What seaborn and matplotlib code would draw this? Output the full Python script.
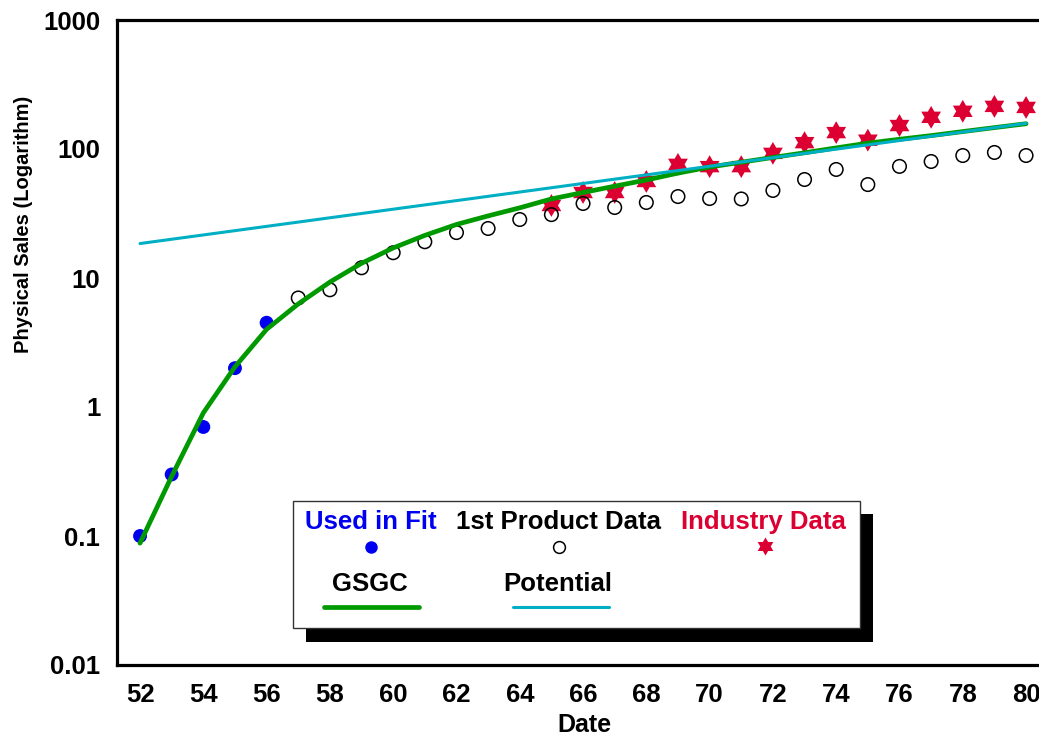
import numpy as np
import pandas as pd
import seaborn as sns
import matplotlib.pyplot as plt
from matplotlib.path import Path
from matplotlib.lines import Line2D
from matplotlib.patches import Rectangle
from matplotlib.ticker import FixedLocator, FixedFormatter, LogLocator, NullFormatter

# Early sales used to calibrate the growth curve
fit_years = [52, 53, 54, 55, 56]
fit_sales = [0.1, 0.3, 0.7, 2.0, 4.5]

# First-product sales history
product_years = list(range(57, 81))
product_sales = [7.0, 8.1, 12.0, 15.7, 19.1, 22.5, 24.2, 28.4,
                 31.0, 37.8, 35.2, 38.5, 42.8, 41.3, 41.0, 47.7,
                 58.0, 69.4, 53.0, 73.3, 80.0, 89.0, 94.0, 89.0]

# Whole-industry sales
industry_years = list(range(65, 81))
industry_sales = [36.5, 46.0, 46.0, 56.0, 76.0, 73.0, 73.0, 92.5,
                  112.0, 134.0, 117.0, 152.0, 176.0, 196.0, 214.0, 210.0]

# GSGC fitted growth curve, yearly values
gsgc_years = list(range(52, 81))
gsgc_sales = [0.088, 0.29, 0.9, 2.05, 4.0, 6.3, 9.3, 13.0, 17.1, 21.4,
              26.0, 30.3, 35.0, 41.0, 46.0, 51.5, 57.5, 65.0, 72.5, 79.0,
              86.0, 93.5, 102.0, 111.0, 119.0, 127.0, 136.5, 146.5, 157.0]

# Potential market (exponential trend, straight on a log axis)
potential_years = [52, 80]
potential_sales = [18.5, 158.0]

x_ticks = list(range(52, 81, 2))
y_ticks = [0.01, 0.1, 1, 10, 100, 1000]
y_tick_labels = ["0.01", "0.1", "1", "10", "100", "1000"]

GREEN = "#009a00"
CYAN = "#00afc3"
BLUE = "#0000f0"
CRIMSON = "#dc0032"

sns.set_style("white")
plt.rcParams["font.family"] = ["Liberation Sans", "DejaVu Sans"]
plt.rcParams["font.weight"] = "bold"
plt.rcParams["text.color"] = "black"
plt.rcParams["axes.labelcolor"] = "black"
plt.rcParams["xtick.labelcolor"] = "black"
plt.rcParams["ytick.labelcolor"] = "black"

W, H = 1039, 738
fig = plt.figure(figsize=(W / 100, H / 100), dpi=100)


def fx(x):
    return x / W


def fy(y):
    return 1 - y / H


ax = fig.add_axes([fx(117), fy(665), fx(W - 117) + 0.002, (665 - 20) / H])
ax.set_yscale("log")

hexagram = Path.unit_regular_star(6, 0.577)

fit_df = pd.DataFrame({"year": fit_years, "sales": fit_sales})
prod_df = pd.DataFrame({"year": product_years, "sales": product_sales})
ind_df = pd.DataFrame({"year": industry_years, "sales": industry_sales})
gsgc_df = pd.DataFrame({"year": gsgc_years, "sales": gsgc_sales})
pot_df = pd.DataFrame({"year": potential_years, "sales": potential_sales})

sns.scatterplot(data=ind_df, x="year", y="sales", ax=ax, marker=hexagram,
                s=270, color=CRIMSON, edgecolor="none", zorder=3)
sns.scatterplot(data=prod_df, x="year", y="sales", ax=ax, marker="o",
                s=95, facecolor="none", edgecolor="black", linewidth=1.1, zorder=3)
sns.scatterplot(data=fit_df, x="year", y="sales", ax=ax, marker="o",
                s=100, color=BLUE, edgecolor="none", zorder=3)
sns.lineplot(data=gsgc_df, x="year", y="sales", ax=ax, color=GREEN,
             linewidth=3.4, zorder=4, solid_capstyle="round")
sns.lineplot(data=pot_df, x="year", y="sales", ax=ax, color=CYAN,
             linewidth=2.2, zorder=5, solid_capstyle="round")

ax.set_xlim(52 - 23 / 31.607, 80 + 15 / 31.607)
ax.set_ylim(0.01, 1000)

ax.xaxis.set_major_locator(FixedLocator(x_ticks))
ax.xaxis.set_minor_locator(FixedLocator([]))
ax.yaxis.set_major_locator(FixedLocator(y_ticks))
ax.yaxis.set_major_formatter(FixedFormatter(y_tick_labels))
ax.yaxis.set_minor_locator(LogLocator(base=10, subs=np.arange(2, 10)))
ax.yaxis.set_minor_formatter(NullFormatter())

ax.tick_params(axis="x", which="major", direction="in", length=9.5, width=0.9,
               color="#444444", labelsize=18.5, pad=13, labelcolor="black")
ax.tick_params(axis="y", which="major", direction="in", length=11, width=1.0,
               color="#555555", labelsize=18.5, pad=12, labelcolor="black")
ax.tick_params(axis="y", which="minor", direction="in", length=5, width=1.0,
               color="#222222")
for lab in ax.get_xticklabels() + ax.get_yticklabels():
    lab.set_fontweight("bold")

for side in ["left", "bottom", "top"]:
    ax.spines[side].set_visible(True)
    ax.spines[side].set_linewidth(2.3)
    ax.spines[side].set_color("black")
ax.spines["right"].set_visible(False)

ax.set_xlabel("Date", fontsize=18, fontweight="bold", color="black")
ax.xaxis.set_label_coords((583 - 117) / 922, (665 - 713) / 645)
ax.set_ylabel("Physical Sales (Logarithm)", fontsize=14.5, fontweight="bold",
              color="black")
ax.yaxis.set_label_coords((33 - 117) / 922, (665 - 224) / 645)

# Boxed key with drop shadow
fig.add_artist(Rectangle((fx(306), fy(642)), fx(873 - 306), (642 - 514) / H,
                         transform=fig.transFigure, facecolor="black",
                         edgecolor="none", zorder=10))
fig.add_artist(Rectangle((fx(293), fy(628)), fx(860 - 293), (628 - 501) / H,
                         transform=fig.transFigure, facecolor="white",
                         edgecolor="#333333", linewidth=1.0, zorder=11))

key_font = dict(fontsize=18.5, fontweight="bold", ha="center", va="center",
                zorder=12, transform=fig.transFigure)
fig.text(fx(371), fy(522), "Used in Fit", color=BLUE, **key_font)
fig.text(fx(559), fy(522), "1st Product Data", color="black", **key_font)
fig.text(fx(763), fy(522), "Industry Data", color=CRIMSON, **key_font)
fig.text(fx(370), fy(584), "GSGC", color="black", **key_font)
fig.text(fx(558), fy(584), "Potential", color="black", **key_font)

fig.add_artist(Line2D([fx(371)], [fy(547)], marker="o", markersize=9,
                      color=BLUE, markeredgecolor="none", linestyle="none",
                      transform=fig.transFigure, zorder=12))
fig.add_artist(Line2D([fx(559)], [fy(547)], marker="o", markersize=8.5,
                      markerfacecolor="none", markeredgecolor="black",
                      markeredgewidth=1.1, linestyle="none",
                      transform=fig.transFigure, zorder=12))
fig.add_artist(Line2D([fx(765)], [fy(546)], marker=hexagram, markersize=13,
                      color=CRIMSON, markeredgecolor="none", linestyle="none",
                      transform=fig.transFigure, zorder=12))
fig.add_artist(Line2D([fx(324), fx(419)], [fy(607), fy(607)], color=GREEN,
                      linewidth=3.4, solid_capstyle="round",
                      transform=fig.transFigure, zorder=12))
fig.add_artist(Line2D([fx(513), fx(609)], [fy(607), fy(607)], color=CYAN,
                      linewidth=2.2, solid_capstyle="round",
                      transform=fig.transFigure, zorder=12))

fig.savefig("out.png", dpi=100)
